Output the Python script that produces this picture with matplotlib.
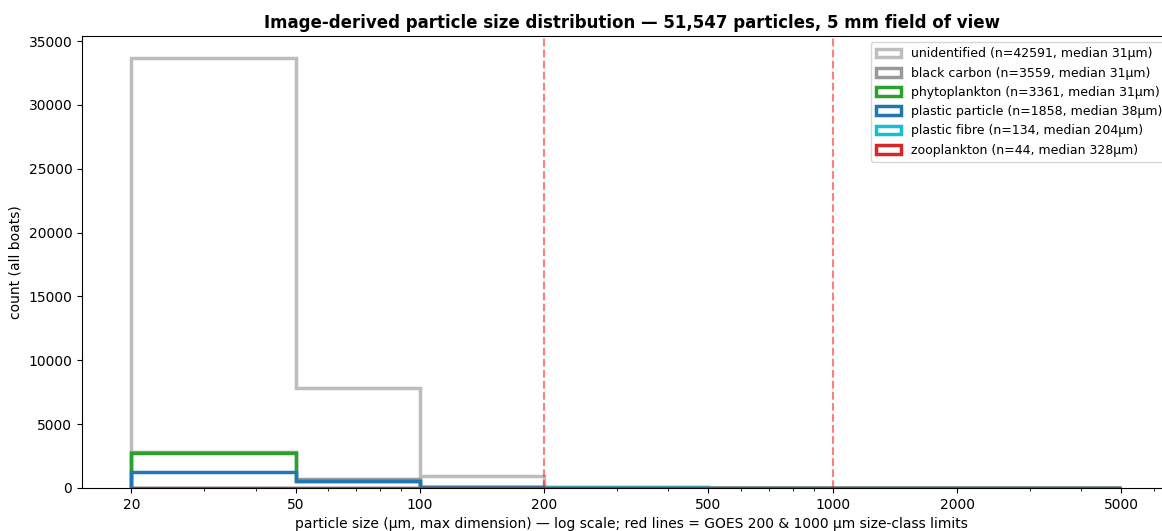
import numpy as np
import matplotlib
matplotlib.use("Agg")
import matplotlib.pyplot as plt
from matplotlib.ticker import NullFormatter


# ============================================================
# DATA (counts per size bin)
# ============================================================

BIN_EDGES = [20, 50, 100, 200, 500, 1000, 2000, 5000]

CLASSES = [
    "unidentified",
    "black carbon",
    "phytoplankton",
    "plastic particle",
    "plastic fibre",
    "zooplankton",
]

MEDIANS = [31, 31, 31, 38, 204, 328]

COUNTS_UNIDENTIFIED = [33700, 7830, 940, 95, 18, 6, 2]
COUNTS_BLACK_CARBON = [2790, 680, 75, 10, 3, 1, 0]
COUNTS_PHYTOPLANKTON = [2720, 580, 52, 7, 2, 0, 0]
COUNTS_PLASTIC_PARTICLE = [1230, 560, 52, 12, 3, 1, 0]
COUNTS_PLASTIC_FIBRE = [18, 24, 22, 40, 20, 8, 2]
COUNTS_ZOOPLANKTON = [2, 5, 8, 15, 10, 3, 1]

ALL_COUNTS = [
    COUNTS_UNIDENTIFIED,
    COUNTS_BLACK_CARBON,
    COUNTS_PHYTOPLANKTON,
    COUNTS_PLASTIC_PARTICLE,
    COUNTS_PLASTIC_FIBRE,
    COUNTS_ZOOPLANKTON,
]

COLORS = ["#bdbdbd", "#999999", "#2ca02c", "#1f77b4", "#17becf", "#d62728"]

GOES_LIMITS = [200, 1000]
TICKS = [20, 50, 100, 200, 500, 1000, 2000, 5000]


# ============================================================
# PLOT
# ============================================================

def main():
    fig = plt.figure(figsize=(11.62, 5.31), dpi=100)
    ax = fig.add_axes([0.0706, 0.081, 0.9464, 0.851])

    left_edges = BIN_EDGES[:-1]
    for name, med, counts, color in zip(CLASSES, MEDIANS, ALL_COUNTS, COLORS):
        n = int(np.sum(counts))
        ax.hist(
            left_edges,
            bins=BIN_EDGES,
            weights=counts,
            histtype="step",
            linewidth=2.5,
            color=color,
            label=f"{name} (n={n}, median {med}µm)",
        )

    for x in GOES_LIMITS:
        ax.axvline(x, color="red", linestyle="--", linewidth=1.5, alpha=0.5)

    ax.set_xscale("log")
    ax.set_xlim(15.2, 7000)
    ax.set_xticks(TICKS)
    ax.set_xticklabels([str(t) for t in TICKS])
    ax.xaxis.set_minor_formatter(NullFormatter())

    ax.set_xlabel("particle size (µm, max dimension) — log scale; red lines = GOES 200 & 1000 µm size-class limits")
    ax.set_ylabel("count (all boats)")
    ax.set_title("Image-derived particle size distribution — 51,547 particles, 5 mm field of view",
                 fontsize=12, fontweight="bold")
    ax.legend(loc="upper right", bbox_to_anchor=(0.9925, 1.0), fontsize=9)

    fig.savefig("out.png", dpi=100)


if __name__ == "__main__":
    main()
